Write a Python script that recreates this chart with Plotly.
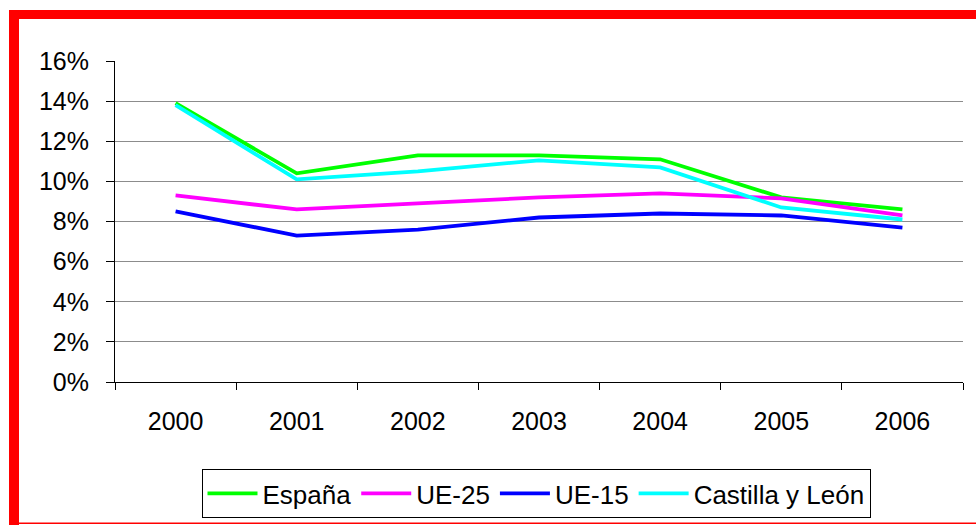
import plotly.graph_objects as go

years = ["2000", "2001", "2002", "2003", "2004", "2005", "2006"]
espana = [13.9, 10.4, 11.3, 11.3, 11.1, 9.2, 8.6]
ue25 = [9.3, 8.6, 8.9, 9.2, 9.4, 9.15, 8.3]
ue15 = [8.5, 7.3, 7.6, 8.2, 8.4, 8.3, 7.7]
cyl = [13.8, 10.1, 10.5, 11.05, 10.7, 8.7, 8.1]
y_ticks = [0, 2, 4, 6, 8, 10, 12, 14, 16]

W, H = 976, 525
L, R, T, B = 115, 13, 61, 143
PW, PH = W - L - R, H - T - B

def px(x):
    return (x - L) / PW

def py(y):
    return 1 - (y - T) / PH

fig = go.Figure()
series = [("España", espana, "#00FF00"), ("UE-25", ue25, "#FF00FF"),
          ("UE-15", ue15, "#0000FF"), ("Castilla y León", cyl, "#00FFFF")]
for name, vals, col in series:
    fig.add_trace(go.Scatter(x=years, y=vals, name=name, mode="lines",
                             line=dict(color=col, width=3.8)))

shapes = [
    dict(type="rect", xref="paper", yref="paper", x0=px(9), x1=px(19), y0=py(525), y1=py(10),
         fillcolor="#FF0000", line=dict(width=0), layer="above"),
    dict(type="rect", xref="paper", yref="paper", x0=px(9), x1=px(976), y0=py(19), y1=py(10),
         fillcolor="#FF0000", line=dict(width=0), layer="above"),
    dict(type="rect", xref="paper", yref="paper", x0=px(9), x1=px(976), y0=py(524), y1=py(522.5),
         fillcolor="#FF0000", line=dict(width=0), layer="above"),
]

fig.update_layout(
    width=W, height=H,
    margin=dict(l=L, r=R, t=T, b=B, pad=0, autoexpand=False),
    paper_bgcolor="white", plot_bgcolor="white",
    font=dict(family="Liberation Sans, Arial", size=25, color="black"),
    shapes=shapes,
    showlegend=True,
    legend=dict(orientation="h", x=px(536), xanchor="center", y=py(469), yanchor="top",
                bordercolor="#000000", borderwidth=1, font=dict(size=26),
                itemwidth=50, tracegroupgap=0, bgcolor="white"),
    xaxis=dict(type="category", range=[-0.5, 6.5], tickson="boundaries", ticks="outside",
               ticklen=7, tickcolor="#000", showline=True, linecolor="#000", linewidth=1,
               showgrid=False, ticklabelstandoff=17),
    yaxis=dict(range=[0, 16], tickvals=y_ticks, ticktext=[f"{v}%" for v in y_ticks],
               ticks="outside", ticklen=8, tickcolor="#000", showline=True,
               linecolor="#000", linewidth=1, showgrid=True, gridcolor="#8c8c8c",
               gridwidth=1, zeroline=False, ticklabelstandoff=12),
)

fig.write_html("out.html", config={"displayModeBar": False},
               post_script="document.body.style.margin='0';document.body.style.overflow='hidden';")
